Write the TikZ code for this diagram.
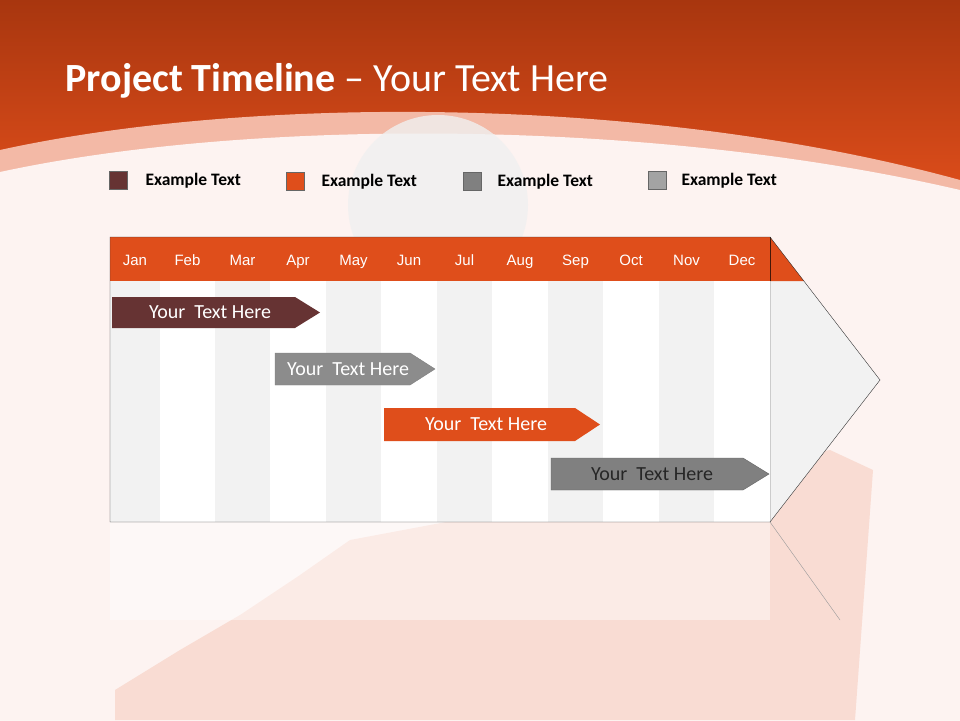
\documentclass[tikz,border=0pt]{standalone}
\usepackage{fontspec}
\setmainfont{Carlito}
\newfontfamily\arialf{Liberation Sans}
\definecolor{org}{HTML}{DF4E1B}
\definecolor{orgd}{HTML}{A8360F}
\definecolor{maroon}{HTML}{663333}
\definecolor{bg}{HTML}{FDF3F1}
\definecolor{colg}{HTML}{F2F2F2}
\definecolor{gr1}{HTML}{8C8C8C}
\definecolor{gr2}{HTML}{808080}
\tikzset{
 legbox/.style={draw=black!60,minimum width=18pt,minimum height=18pt,inner sep=0pt},
 legtxt/.style={font=\bfseries\fontsize{17.5}{19}\selectfont,anchor=west},
 month/.style={text=white,font=\arialf\fontsize{15}{17}\selectfont,anchor=base},
 bartxt/.style={font=\fontsize{20}{22}\selectfont}
}
\begin{document}
\begin{tikzpicture}[x=1pt,y=-1pt]
\useasboundingbox (0,0) rectangle (960,720);
\fill[bg] (0,0) rectangle (960,720);
% header band
\shade[top color=orgd,bottom color=org] (0,0) rectangle (960,200);
\fill[org!35!bg] (0,150) .. controls (250,95) and (650,95) .. (960,180) -- (960,720) -- (0,720) -- cycle;
\fill[bg] (0,172) .. controls (250,118) and (650,118) .. (960,190) -- (960,720) -- (0,720) -- cycle;
\fill[black!6,opacity=0.8] (438,205) circle (90);
% faint bricks area
\fill[org!14!bg] (115,720) -- (115,690) -- (180,650) -- (240,615) -- (300,575) -- (350,540) -- (830,450) -- (873,470) -- (855,720) -- cycle;
\node[anchor=west,text=white,font=\fontsize{40}{46}\selectfont] (title) at (62,81) {\textbf{Project Timeline} -- Your Text Here};
% legend
\node[legbox,fill=maroon] (l1) at (118,180) {};
\node[legtxt] (t1) at (142,181) {Example Text};
\node[legbox,fill=org] (l2) at (295,181) {};
\node[legtxt] (t2) at (318,182) {Example Text};
\node[legbox,fill=gr2] (l3) at (472,181) {};
\node[legtxt] (t3) at (494,182) {Example Text};
\node[legbox,fill=gr1!80!white] (l4) at (657,180) {};
\node[legtxt] (t4) at (678,181) {Example Text};
% reflection
\fill[white,opacity=0.45] (110,522) rectangle (770,620);
\draw[black!40] (770,522) -- (840,620);
% chart
\fill[colg] (770,237) -- (880,380) -- (770,522) -- cycle;
\foreach \a/\b/\m/\i in {110/160/Jan/1,160/215/Feb/2,215/270/Mar/3,270/326/Apr/4,326/381/May/5,381/437/Jun/6,437/492/Jul/7,492/548/Aug/8,548/603/Sep/9,603/659/Oct/10,659/714/Nov/11,714/770/Dec/12}{
 \pgfmathparse{int(mod(\i,2))}
 \ifnum\pgfmathresult=1 \def\cc{colg}\else\def\cc{white}\fi
 \fill[\cc] (\a,281) rectangle (\b,522);
 \draw[black!20] (\b,281) -- (\b,522);
 \fill[org] (\a,237) rectangle (\b,281);
 \draw[black!70!org] (\b,237) -- (\b,281);
 \node[month] (m\i) at ({(\a+\b)/2},265) {\m};
}
\fill[org] (770,237) -- (804,281) -- (770,281) -- cycle;
\draw[black!70!org] (770,237) -- (770,281);
\draw[black!80] (110,281) -- (110,237) -- (770,237) -- (880,380) -- (770,522) -- (110,522) -- cycle;
% bars
\fill[maroon] (112,297) -- (295,297) -- (320,312.5) -- (295,328) -- (112,328) -- cycle;
\node[bartxt,text=white] (b1) at (210,312.5) {Your\ \ Text Here};
\fill[gr1,draw=black!50] (275,353) -- (410,353) -- (435,369) -- (410,385) -- (275,385) -- cycle;
\node[bartxt,text=white] (b2) at (348,369) {Your\ \ Text Here};
\fill[org] (384,408) -- (575,408) -- (600,424.5) -- (575,441) -- (384,441) -- cycle;
\node[bartxt,text=white] (b3) at (486,424.5) {Your\ \ Text Here};
\fill[gr2,draw=black!60] (551,458) -- (743,458) -- (769,474) -- (743,490) -- (551,490) -- cycle;
\node[bartxt,text=black!85] (b4) at (652,474) {Your\ \ Text Here};
\end{tikzpicture}
\end{document}
